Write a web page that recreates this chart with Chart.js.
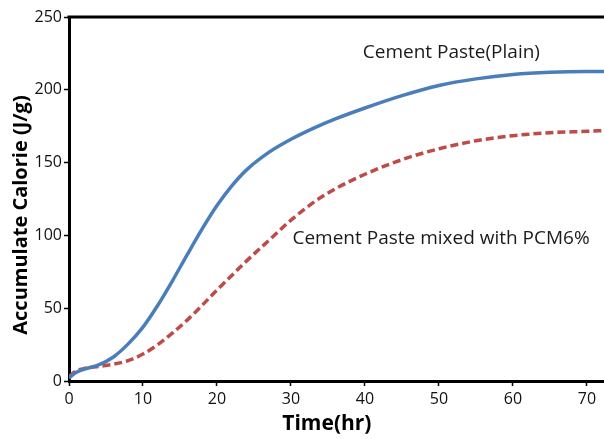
<!DOCTYPE html>
<html>
<head>
<meta charset="utf-8">
<script src="https://cdn.jsdelivr.net/npm/chart.js@4"></script>
<style>
    body { margin: 0; background: #fff; }
    #wrap { width: 604px; height: 439px; position: relative; }
</style>
</head>
<body>
<div id="wrap"><canvas id="calChart"></canvas></div>
<script>
// hydration time (hr)
const hours = [0, 1, 2, 4, 6, 8, 10, 12, 14, 16, 18, 20, 22, 24, 27, 30, 33, 36, 40, 45, 50, 55, 60, 65, 70, 72.3];

// accumulated heat (J/g)
const plainCal = [2, 6, 8, 11, 16.5, 25.5, 37, 52, 69, 87, 104.5, 120.5, 134, 145, 157, 166, 173.5, 180, 187.5, 196, 203, 207.5, 210.5, 212, 212.5, 212.5];
const pcmCal = [3, 7, 8.5, 10, 11.5, 14, 18.5, 25, 33, 42, 52, 62.5, 72.5, 82.5, 96.5, 110.5, 122.5, 132, 142, 152, 159.5, 165, 168.5, 170.5, 171.5, 172];

const xTicks = [0, 10, 20, 30, 40, 50, 60, 70];
const yTicks = [0, 50, 100, 150, 200, 250];

const xTitle = "Time(hr)";
const yTitle = "Accumulate Calorie (J/g)";

const notes = [
    { text: "Cement Paste(Plain)", x: 39.7, y: 225.3 },
    { text: "Cement Paste mixed with PCM6%", x: 30.2, y: 97.5 }
];

const toPoints = vals => hours.map((h, i) => ({ x: h, y: vals[i] }));

// top frame line, axis titles and curve captions
const framePlugin = {
    id: "frame",
    afterDraw(chart) {
        const { ctx, chartArea, scales } = chart;
        ctx.save();
        ctx.strokeStyle = "#000";
        ctx.lineWidth = 3;
        ctx.beginPath();
        ctx.moveTo(chartArea.left - 1.5, chartArea.top);
        ctx.lineTo(chartArea.right, chartArea.top);
        ctx.stroke();

        ctx.fillStyle = "#000";
        ctx.textAlign = "center";
        ctx.textBaseline = "middle";
        ctx.font = "bold 21px 'Open Sans'";
        ctx.fillText(xTitle, chartArea.left + (chartArea.right - chartArea.left) * 0.482, 424);

        ctx.save();
        ctx.translate(21, chartArea.top + (chartArea.bottom - chartArea.top) * 0.544);
        ctx.rotate(-Math.PI / 2);
        ctx.font = "bold 20px 'Open Sans'";
        ctx.fillText(yTitle, 0, 0);
        ctx.restore();

        ctx.fillStyle = "#1a1a1a";
        ctx.font = "19px 'Open Sans'";
        ctx.textAlign = "left";
        notes.forEach(n => {
            ctx.fillText(n.text, scales.x.getPixelForValue(n.x), scales.y.getPixelForValue(n.y));
        });
        ctx.restore();
    }
};

new Chart(document.getElementById("calChart"), {
    type: "line",
    data: {
        datasets: [
            {
                label: "Cement Paste(Plain)",
                data: toPoints(plainCal),
                borderColor: "#4A7EBB",
                borderWidth: 3.5,
                pointRadius: 0,
                tension: 0.4,
                cubicInterpolationMode: "monotone"
            },
            {
                label: "Cement Paste mixed with PCM6%",
                data: toPoints(pcmCal),
                borderColor: "#BE4B48",
                borderWidth: 3.5,
                borderDash: [8, 4],
                pointRadius: 0,
                tension: 0.4,
                cubicInterpolationMode: "monotone"
            }
        ]
    },
    options: {
        responsive: true,
        maintainAspectRatio: false,
        animation: false,
        layout: { padding: { top: 17, right: 0, bottom: 0, left: 0 } },
        plugins: {
            legend: { display: false },
            tooltip: { enabled: false }
        },
        scales: {
            x: {
                type: "linear",
                min: 0,
                max: 72.3,
                afterFit: s => { s.height = 58; },
                afterBuildTicks: s => { s.ticks = xTicks.map(v => ({ value: v })); },
                ticks: {
                    includeBounds: false,
                    padding: 4,
                    color: "#111",
                    font: { family: "'Open Sans'", size: 16 }
                },
                grid: {
                    drawOnChartArea: false,
                    tickLength: 5,
                    tickColor: "#000",
                    tickWidth: 1.5
                },
                border: { color: "#000", width: 3 }
            },
            y: {
                min: 0,
                max: 250,
                afterFit: s => { s.width = 69; },
                afterBuildTicks: s => { s.ticks = yTicks.map(v => ({ value: v })); },
                ticks: {
                    padding: 2,
                    color: "#111",
                    font: { family: "'Open Sans'", size: 16 }
                },
                grid: {
                    drawOnChartArea: false,
                    tickLength: 5,
                    tickColor: "#000",
                    tickWidth: 1.5
                },
                border: { color: "#000", width: 3 }
            }
        }
    },
    plugins: [framePlugin]
});
</script>
</body>
</html>
